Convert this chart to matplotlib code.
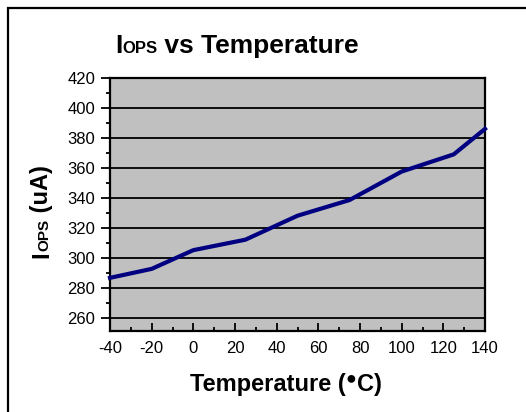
import matplotlib
matplotlib.use("Agg")
import matplotlib.pyplot as plt
from matplotlib.patches import Rectangle
from matplotlib.ticker import MultipleLocator

# dados
temp_c = [-40, -20, 0, 25, 50, 75, 100, 125, 140]
iops_ua = [286.5, 292.5, 305, 312, 328, 338.5, 357.5, 369, 386]
xticks = [-40, -20, 0, 20, 40, 60, 80, 100, 120, 140]
yticks = [260, 280, 300, 320, 340, 360, 380, 400, 420]

W, H = 526, 412
plt.rcParams["font.family"] = ["Liberation Sans", "DejaVu Sans"]
plt.rcParams["axes.unicode_minus"] = False

fig = plt.figure(figsize=(W / 100, H / 100), dpi=100)
fig.patches.append(Rectangle((8 / W, -0.1), 1.2, 1 - 8 / H + 0.1, transform=fig.transFigure,
                             fill=False, ec="black", lw=1.6))

ax = fig.add_axes([110 / W, 1 - 331 / H, 375 / W, 253 / H])
ax.set_facecolor("#c0c0c0")
ax.plot(temp_c, iops_ua, color="#000080", lw=3, solid_joinstyle="round", clip_on=False, zorder=3)
ax.set_xlim(-40, 140)
ax.set_ylim(251, 420)
ax.set_xticks(xticks)
ax.set_yticks(yticks)
ax.xaxis.set_minor_locator(MultipleLocator(10))
ax.yaxis.set_minor_locator(MultipleLocator(10))
ax.grid(True, axis="y", which="major", color="black", lw=1.3)
ax.set_axisbelow(False)
ax.tick_params(axis="x", which="major", direction="in", length=6, width=1.3, labelsize=12, pad=7)
ax.tick_params(axis="x", which="minor", direction="in", length=3, width=1.3)
ax.tick_params(axis="y", which="major", direction="out", length=6.5, width=1.3, labelsize=12, pad=4)
ax.tick_params(axis="y", which="minor", direction="out", length=3, width=1.3)
for s in ax.spines.values():
    s.set_linewidth(1.6)

fig.canvas.draw()
r = fig.canvas.get_renderer()


def chain(pieces, x, y, rot=0):
    # escreve pedaços com tamanhos diferentes na mesma linha de base (dy = quanto sobe)
    for txt, size, dy in pieces:
        t = fig.text(x / W, (H - y + dy) / H, txt, fontsize=size, fontweight="bold",
                     ha="left", va="baseline", rotation=rot, rotation_mode="anchor")
        bb = t.get_window_extent(r)
        if rot == 0:
            x = bb.x1
        else:
            y = H - bb.y1


# título
chain([("I", 19, 0), ("OPS", 12, 0), (" vs Temperature", 19, 0)], 115, 53)
# rótulo x
chain([("Temperature (", 17, 0), ("●", 13, 8), ("C)", 17, 0)], 190, 391)
# rótulo y (vertical)
chain([("I", 17, 0), ("OPS", 11, 0), (" (uA)", 17, 0)], 48, 258, rot=90)

fig.savefig("out.png", dpi=100)
